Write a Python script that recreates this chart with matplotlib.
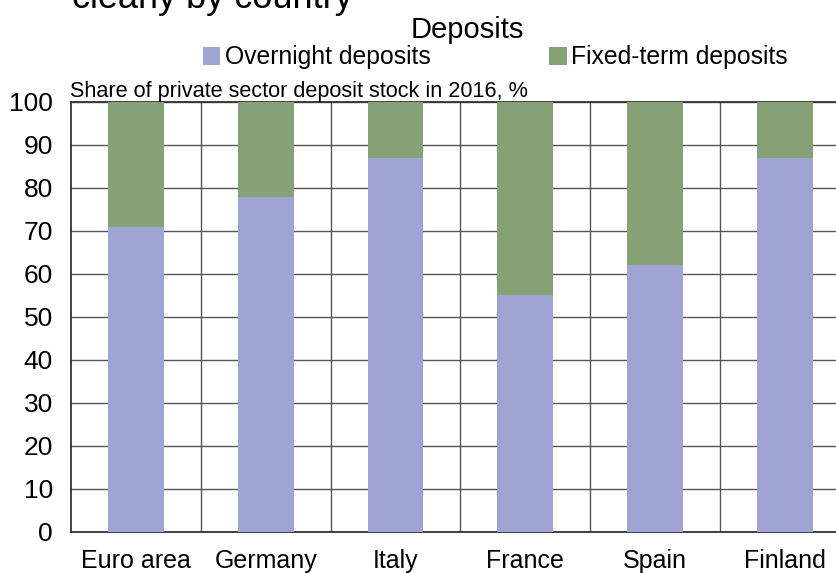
import matplotlib.pyplot as plt
import numpy as np

plt.rcParams["font.family"] = ["Liberation Sans", "DejaVu Sans"]

countries = ["Euro area", "Germany", "Italy", "France", "Spain", "Finland"]
overnight = [71, 78, 87, 55, 62, 87]
fixed_term = [29, 22, 13, 45, 38, 13]
yticks = [0, 10, 20, 30, 40, 50, 60, 70, 80, 90, 100]

blue = "#a0a4d4"
green = "#87a176"
grid_col = "#555555"

fig = plt.figure(figsize=(8.37, 5.73), dpi=100)
ax = fig.add_axes([0.0848, 0.0716, 0.9307, 0.7504])

x = np.arange(len(countries))
ax.bar(x, overnight, width=0.43, color=blue, zorder=3, label="Overnight deposits")
ax.bar(x, fixed_term, width=0.43, bottom=overnight, color=green, zorder=3,
       label="Fixed-term deposits")

ax.set_xlim(-0.5, len(countries) - 0.5)
ax.set_ylim(0, 100)
ax.set_yticks(yticks)
ax.set_xticks(x)
ax.set_xticklabels(countries)
ax.set_xticks(x[:-1] + 0.5, minor=True)

ax.grid(axis="y", which="major", color=grid_col, lw=1.0, zorder=0)
ax.grid(axis="x", which="minor", color=grid_col, lw=1.0, zorder=0)
ax.tick_params(axis="y", length=0, pad=13, labelsize=19)
ax.tick_params(axis="x", which="major", direction="in", length=4, width=1,
               color=grid_col, pad=12.5, labelsize=18)
ax.tick_params(axis="x", which="minor", length=0)
for side in ["left", "bottom", "top"]:
    ax.spines[side].set_color("#333333")
    ax.spines[side].set_linewidth(1.3)
ax.spines["right"].set_visible(False)

fig.text(0.086, 0.986, "clearly by country", fontsize=26, va="baseline", ha="left")
fig.text(0.5585, 0.934, "Deposits", fontsize=21, va="baseline", ha="center")
fig.text(0.084, 0.831, "Share of private sector deposit stock in 2016, %",
         fontsize=15.6, va="baseline", ha="left")

handles, labels = ax.get_legend_handles_labels()
fig.legend(handles, labels, loc="center left", bbox_to_anchor=(0.242, 0.9),
           ncol=2, frameon=False, fontsize=17.8, handlelength=0.7,
           handleheight=0.75, handletextpad=0.2, columnspacing=4.8,
           borderpad=0, borderaxespad=0)

fig.savefig("out.png", dpi=100)
